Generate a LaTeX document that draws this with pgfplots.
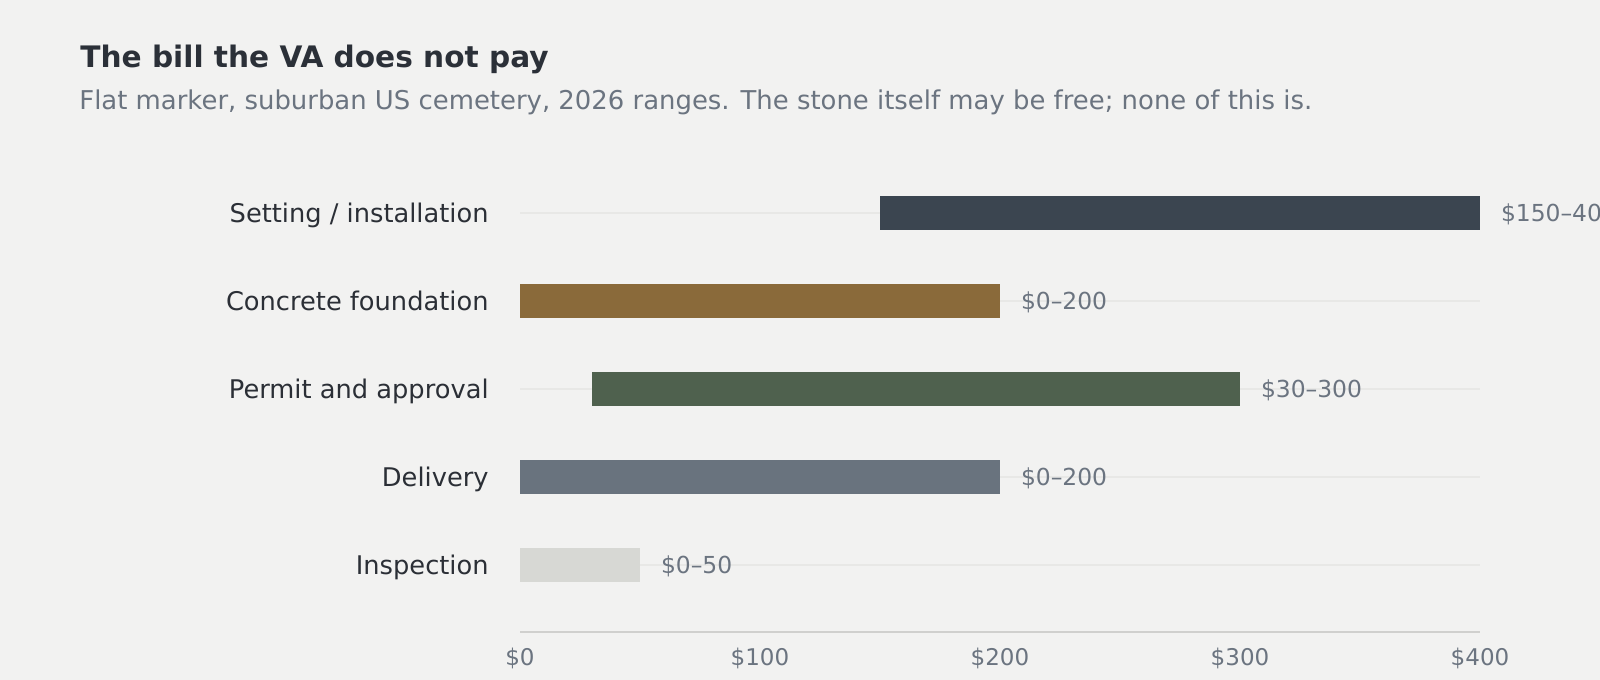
\documentclass[border=0pt]{standalone}
\usepackage{fontspec}
\setmainfont{DejaVu Sans}
\usepackage{pgfplots}
\pgfplotsset{compat=1.18}

\definecolor{bgc}{HTML}{F2F2F1}
\definecolor{gridc}{HTML}{E8E8E6}
\definecolor{axisc}{HTML}{D0D0CE}
\definecolor{titlec}{HTML}{2B3038}
\definecolor{subc}{HTML}{6B7480}
\definecolor{labc}{HTML}{2B2F36}
\definecolor{valc}{HTML}{6B7480}
\definecolor{setc}{HTML}{3B4550}
\definecolor{concc}{HTML}{8A6A3A}
\definecolor{permc}{HTML}{4F614E}
\definecolor{delc}{HTML}{69737E}
\definecolor{inspc}{HTML}{D7D8D4}

\tikzset{vallab/.style={pos=1, anchor=base west, xshift=2bp, yshift=-4.2bp, inner sep=0pt,
  text=valc, font=\fontsize{11.7bp}{13bp}\selectfont}}

\begin{document}
\begin{tikzpicture}
\fill[bgc] (0,0) rectangle (800bp,340bp);
\useasboundingbox (0,0) rectangle (800bp,340bp);

\node[anchor=base west, inner sep=0pt, text=titlec,
      font=\bfseries\fontsize{14.8bp}{17bp}\selectfont] at (40bp,306.3bp)
  {The bill the VA does not pay};
\node[anchor=base west, inner sep=0pt, text=subc,
      font=\fontsize{12.95bp}{15bp}\selectfont] at (39.5bp,285bp)
  {Flat marker, suburban US cemetery, 2026 ranges. The stone itself may be free; none of this is.};

\begin{axis}[
  at={(260bp,24bp)}, anchor=south west,
  scale only axis, width=480bp, height=231.5bp,
  xmin=0, xmax=400, ymin=-0.7614, ymax=4.5,
  clip=false,
  axis x line*=bottom, axis y line*=left,
  x axis line style={-, draw=axisc, line width=1bp},
  y axis line style={draw=none},
  major tick length=0pt,
  xtick={0,100,200,300,400},
  xticklabels={\$0,\$100,\$200,\$300,\$400},
  xticklabel style={anchor=base, yshift=-16.85bp, inner sep=0pt, text=valc,
    font=\fontsize{11.5bp}{13bp}\selectfont},
  ytick={0,1,2,3,4},
  yticklabels={Inspection,Delivery,Permit and approval,Concrete foundation,Setting / installation},
  yticklabel style={anchor=base east, xshift=-15.5bp, yshift=-4.7bp, inner sep=0pt, text=labc,
    font=\fontsize{12.85bp}{15bp}\selectfont},
  ymajorgrids,
  major grid style={draw=gridc, line width=1bp},
]
% floating bars: (low,row) to (high,row)
\addplot[draw=setc, line width=17bp] coordinates {(150,4) (400,4)}
  node[vallab] {\$150–400};
\addplot[draw=concc, line width=17bp] coordinates {(0,3) (200,3)}
  node[vallab] {\$0–200};
\addplot[draw=permc, line width=17bp] coordinates {(30,2) (300,2)}
  node[vallab] {\$30–300};
\addplot[draw=delc, line width=17bp] coordinates {(0,1) (200,1)}
  node[vallab] {\$0–200};
\addplot[draw=inspc, line width=17bp] coordinates {(0,0) (50,0)}
  node[vallab] {\$0–50};
\end{axis}
\end{tikzpicture}
\end{document}
